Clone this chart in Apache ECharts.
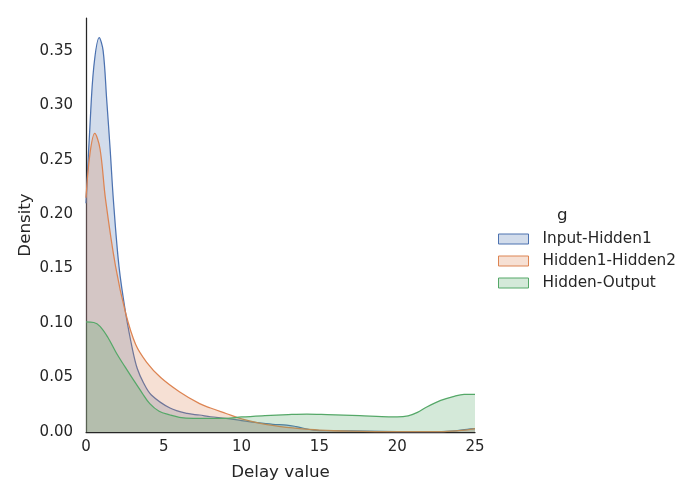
<!DOCTYPE html>
<html>
<head>
<meta charset="utf-8">
<script src="https://cdn.jsdelivr.net/npm/echarts@6/dist/echarts.min.js"></script>
<style>
  html, body { margin: 0; padding: 0; background: #fff; }
  #chart { width: 689px; height: 500px; }
</style>
</head>
<body>
<div id="chart"></div>
<script>
// KDE curves, [delay value, density]
const seriesNames = ['Input-Hidden1', 'Hidden1-Hidden2', 'Hidden-Output'];
const lineColors = ['#4c72b0', '#dd8452', '#55a868'];
const fillColors = ['rgba(76, 114, 176, 0.25)', 'rgba(221, 132, 82, 0.25)', 'rgba(85, 168, 104, 0.25)'];

const inputHidden1 = [
    [0, 0.21], [0.25, 0.28], [0.5, 0.335], [0.85, 0.362], [1.1, 0.35], [1.33, 0.305],
    [1.55, 0.26], [1.76, 0.213], [2.12, 0.152], [2.55, 0.109], [3.0, 0.075], [3.3, 0.058],
    [3.7, 0.045], [4.2, 0.034], [5.4, 0.022], [6.5, 0.017], [7.3, 0.0156], [8, 0.014],
    [9, 0.0126], [10, 0.0105], [11, 0.0085], [12, 0.007], [12.9, 0.0064], [13.5, 0.005],
    [14.6, 0.0018], [16, 0.0012], [18, 0.0008], [20, 0.0004], [22, 0.0003], [23.5, 0.0008],
    [24.5, 0.0025], [25, 0.003]
];
const hidden1Hidden2 = [
    [0, 0.215], [0.25, 0.255], [0.56, 0.274], [0.9, 0.26], [1.26, 0.213], [1.9, 0.152],
    [2.55, 0.109], [3.2, 0.08], [3.9, 0.064], [4.8, 0.05], [6.0, 0.037], [7.3, 0.026],
    [8, 0.022], [9, 0.017], [10, 0.012], [11.2, 0.008], [12.5, 0.005], [13.3, 0.0037],
    [15, 0.0018], [17, 0.0008], [20, 0.0003], [23, 0.0004], [24.5, 0.002], [25, 0.003]
];
const hiddenOutput = [
    [0, 0.101], [0.5, 0.1005], [0.9, 0.097], [1.4, 0.087], [1.97, 0.072], [2.5, 0.06],
    [3.04, 0.048], [3.6, 0.036], [4.1, 0.026], [4.7, 0.019], [5.4, 0.0156], [6, 0.0135],
    [6.9, 0.0126], [8, 0.0125], [9, 0.0126], [10, 0.0138], [11.5, 0.015], [13, 0.016],
    [14.2, 0.0165], [15.5, 0.016], [17.6, 0.015], [19, 0.014], [20, 0.0138], [20.7, 0.0148],
    [21.3, 0.018], [21.9, 0.023], [22.8, 0.029], [23.6, 0.0325], [24.3, 0.0345], [25, 0.0345]
];
const allData = [inputHidden1, hidden1Hidden2, hiddenOutput];

const xTicks = [0, 5, 10, 15, 20, 25];
const yTicks = [0, 0.05, 0.10, 0.15, 0.20, 0.25, 0.30, 0.35];

const textColor = '#262626';
const font = 'DejaVu Sans';

const chart = echarts.init(document.getElementById('chart'));
const option = {
    animation: false,
    backgroundColor: '#fff',
    textStyle: { fontFamily: font },
    graphic: [{
        type: 'text',
        left: 557,
        top: 207,
        style: { text: 'g', fontFamily: font, fontSize: 16.7, fill: textColor }
    }],
    legend: {
        orient: 'vertical',
        left: 498,
        top: 228,
        padding: 0,
        itemWidth: 30,
        itemHeight: 10,
        itemGap: 0,
        icon: 'rect',
        textStyle: { fontFamily: font, fontSize: 15.3, color: textColor, lineHeight: 22, padding: [0, 0, 0, 9] },
        data: seriesNames.map((n, i) => ({
            name: n,
            itemStyle: { color: fillColors[i], borderColor: lineColors[i], borderWidth: 1 }
        }))
    },
    grid: { left: 86, right: 214, top: 18, bottom: 68 },
    xAxis: {
        type: 'value',
        min: 0,
        max: 25,
        interval: 5,
        name: 'Delay value',
        nameLocation: 'middle',
        nameGap: 32,
        nameTextStyle: { fontFamily: font, fontSize: 16.7, color: textColor },
        axisLine: { lineStyle: { color: textColor, width: 1.25 } },
        axisTick: { show: false },
        splitLine: { show: false },
        axisLabel: {
            fontFamily: font, fontSize: 15, color: textColor, margin: 8,
            formatter: v => (xTicks.indexOf(v) >= 0 ? String(v) : '')
        }
    },
    yAxis: {
        type: 'value',
        min: 0,
        max: 0.38,
        interval: 0.05,
        name: 'Density',
        nameLocation: 'middle',
        nameGap: 52,
        nameMoveOverlap: false,
        nameTextStyle: { fontFamily: font, fontSize: 16.7, color: textColor },
        axisLine: { show: true, lineStyle: { color: textColor, width: 1.25 } },
        axisTick: { show: false },
        splitLine: { show: false },
        axisLabel: {
            fontFamily: font, fontSize: 15, color: textColor, margin: 13,
            showMaxLabel: false,
            formatter: v => {
                const t = yTicks.find(y => Math.abs(y - v) < 1e-9);
                return t === undefined ? '' : t.toFixed(2);
            }
        }
    },
    series: allData.map((d, i) => ({
        name: seriesNames[i],
        type: 'line',
        data: d,
        smooth: 0.35,
        symbol: 'none',
        z: 2 + i,
        lineStyle: { color: lineColors[i], width: 1.25 },
        itemStyle: { color: lineColors[i] },
        areaStyle: { color: fillColors[i], opacity: 1, origin: 'start' }
    }))
};
chart.setOption(option);
</script>
</body>
</html>
